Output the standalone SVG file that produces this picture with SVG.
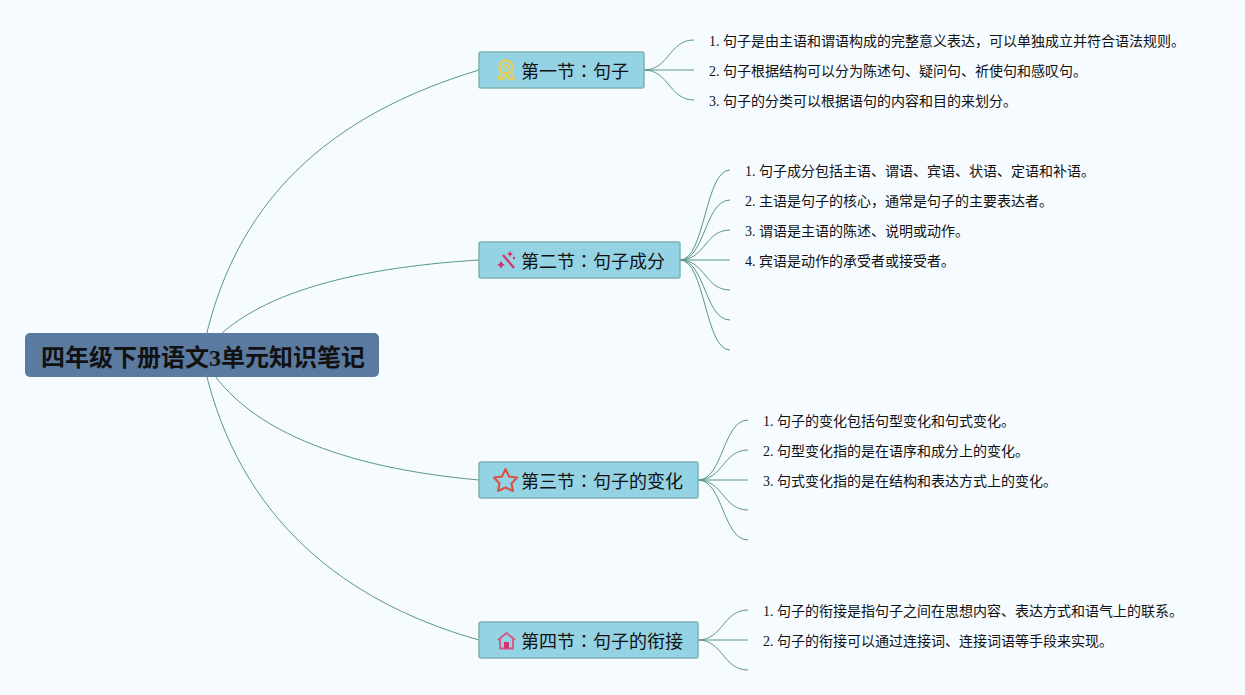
<svg xmlns="http://www.w3.org/2000/svg" width="1245" height="695" viewBox="0 0 1245 695">
<style>
text{font-family:"Liberation Serif","Noto Sans CJK SC",serif;fill:#111}
.leaf{font-size:14px}
.sec{font-size:18px}
.colon{font-family:"Noto Sans CJK TC",sans-serif}
.root{font-size:24px;font-weight:bold}
.box{fill:#94d3e4;stroke:#7eb3b2;stroke-width:1.5}
#connectors path{fill:none;stroke:#5a9688;stroke-width:1}
</style>
<rect width="1245" height="695" fill="#f5fbff"/>
<g id="connectors">
<path d="M202 355C232 200 330 115 479 70"/>
<path d="M202 355C245 295 350 268 479 260"/>
<path d="M202 355C240 430 345 468 479 480"/>
<path d="M202 355C232 505 330 598 479 640"/>
<path d="M644 70C669 70 669 40 694 40"/>
<path d="M644 70H694"/>
<path d="M644 70C669 70 669 100 694 100"/>
<path d="M680 260C705 260 705 170 730 170"/>
<path d="M680 260C705 260 705 200 730 200"/>
<path d="M680 260C705 260 705 230 730 230"/>
<path d="M680 260H730"/>
<path d="M680 260C705 260 705 290 730 290"/>
<path d="M680 260C705 260 705 320 730 320"/>
<path d="M680 260C705 260 705 350 730 350"/>
<path d="M698 480C723 480 723 420 748 420"/>
<path d="M698 480C723 480 723 450 748 450"/>
<path d="M698 480H748"/>
<path d="M698 480C723 480 723 510 748 510"/>
<path d="M698 480C723 480 723 540 748 540"/>
<path d="M698 640C723 640 723 610 748 610"/>
<path d="M698 640H748"/>
<path d="M698 640C723 640 723 670 748 670"/>
</g>
<g id="root">
<rect x="25" y="333" width="354" height="44" rx="5" fill="#5b7aa0"/>
<text class="root" x="41" y="366">四年级下册语文3单元知识笔记</text>
</g>
<g id="sec1">
<rect class="box" x="479" y="52" width="165" height="36" rx="2"/>
<g fill="none" stroke="#e2cf62" stroke-width="2.500"><circle cx="506" cy="67" r="6.500"/><circle cx="506" cy="67" r="2.500" stroke-width="1.500"/><path d="M501 73L498.500 79L503 78.500L506 75.500L509 78.500L513.500 79L511 73"/></g>
<text class="sec" x="521" y="78">第一节<tspan class="colon">：</tspan>句子</text>
</g>
<g id="sec2">
<rect class="box" x="479" y="242" width="201" height="36" rx="2"/>
<g fill="#d5336f"><path d="M503 255L514 268" stroke="#d5336f" stroke-width="2.200"/><path d="M501 261l1.500 2.500 2.500 1.500-2.500 1-1.500 2.500-1.500-2.500-2.500-1 2.500-1.500z"/><path d="M510 251l1 2 2 1-2 1-1 2-1-2-2-1 2-1z"/><circle cx="514" cy="258" r="1.200"/></g>
<text class="sec" x="521" y="268">第二节<tspan class="colon">：</tspan>句子成分</text>
</g>
<g id="sec3">
<rect class="box" x="479" y="462" width="219" height="36" rx="2"/>
<path d="M505.500 469L509 476.500L517 477.500L511.500 483.500L513 491L505.500 487.500L498 491L499.500 483.500L494 477.500L502 476.500Z" fill="none" stroke="#dc4f43" stroke-width="2" stroke-linejoin="round"/>
<text class="sec" x="521" y="488">第三节<tspan class="colon">：</tspan>句子的变化</text>
</g>
<g id="sec4">
<rect class="box" x="479" y="622" width="219" height="36" rx="2"/>
<path d="M498 640L506.500 633L515 640M500 638V648.500H513V638" fill="none" stroke="#d5577f" stroke-width="1.800" stroke-linejoin="round"/>
<rect x="504" y="642" width="5" height="6.500" fill="#d5336f"/>
<text class="sec" x="521" y="648">第四节<tspan class="colon">：</tspan>句子的衔接</text>
</g>
<g id="leaves1">
<text class="leaf" x="709" y="46">1. 句子是由主语和谓语构成的完整意义表达，可以单独成立并符合语法规则。</text>
<text class="leaf" x="709" y="76">2. 句子根据结构可以分为陈述句、疑问句、祈使句和感叹句。</text>
<text class="leaf" x="709" y="106">3. 句子的分类可以根据语句的内容和目的来划分。</text>
</g>
<g id="leaves2">
<text class="leaf" x="745" y="176">1. 句子成分包括主语、谓语、宾语、状语、定语和补语。</text>
<text class="leaf" x="745" y="206">2. 主语是句子的核心，通常是句子的主要表达者。</text>
<text class="leaf" x="745" y="236">3. 谓语是主语的陈述、说明或动作。</text>
<text class="leaf" x="745" y="266">4. 宾语是动作的承受者或接受者。</text>
</g>
<g id="leaves3">
<text class="leaf" x="763" y="426">1. 句子的变化包括句型变化和句式变化。</text>
<text class="leaf" x="763" y="456">2. 句型变化指的是在语序和成分上的变化。</text>
<text class="leaf" x="763" y="486">3. 句式变化指的是在结构和表达方式上的变化。</text>
</g>
<g id="leaves4">
<text class="leaf" x="763" y="616">1. 句子的衔接是指句子之间在思想内容、表达方式和语气上的联系。</text>
<text class="leaf" x="763" y="646">2. 句子的衔接可以通过连接词、连接词语等手段来实现。</text>
</g>
</svg>
